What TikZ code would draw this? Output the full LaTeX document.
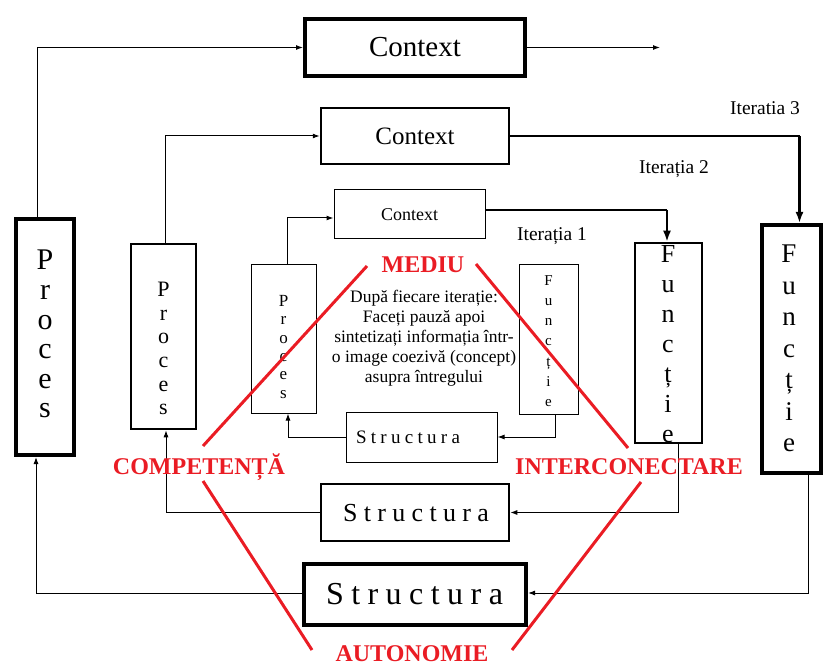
\documentclass[tikz,border=0pt]{standalone}
\usepackage{fontspec}
\setmainfont{Liberation Serif}
\usetikzlibrary{arrows.meta}
\definecolor{redlbl}{RGB}{234,28,36}
\begin{document}
\begin{tikzpicture}[x=1pt,y=-1pt,
  boxthin/.style={draw,line width=1pt,inner sep=0pt},
  boxmid/.style={draw,line width=2.5pt,inner sep=0pt},
  boxthick/.style={draw,line width=4pt,inner sep=0pt},
  conn/.style={line width=1pt,-{Latex[length=7pt,width=5pt]}},
  bigconn/.style={-{Latex[length=11pt,width=8pt]}},
  stack/.style={inner sep=0pt,anchor=north,align=center},
  lbl/.style={inner sep=0pt,anchor=base},
  redlabel/.style={inner sep=0pt,anchor=base,text=redlbl,font=\fontsize{24}{26}\selectfont\bfseries},
  redline/.style={draw=redlbl,line width=3pt}
]
\useasboundingbox (0,0) rectangle (825,668);

% ---- boxes ----
\node[boxthick,minimum width=220pt,minimum height=57pt,font=\fontsize{29}{30}\selectfont] (c3) at (415,47.5) {Context};
\node[boxmid,minimum width=188pt,minimum height=56pt,font=\fontsize{25}{26}\selectfont] (c2) at (415,136) {Context};
\node[boxthin,minimum width=151pt,minimum height=49pt,font=\fontsize{18}{19}\selectfont] (c1) at (409.5,214.5) {Context};

\node[boxthick,minimum width=58pt,minimum height=236pt] (p3) at (45,337) {};
\node[boxmid,minimum width=65pt,minimum height=185pt] (p2) at (163.5,336.5) {};
\node[boxthin,minimum width=65pt,minimum height=148pt] (p1) at (283.5,339) {};

\node[boxthin,minimum width=59pt,minimum height=149pt] (f1) at (548.5,339.5) {};
\node[boxmid,minimum width=67pt,minimum height=200pt] (f2) at (668.5,343) {};
\node[boxthick,minimum width=59pt,minimum height=248pt] (f3) at (791.5,349) {};

\node[boxthin,minimum width=151pt,minimum height=50pt] (s1) at (421.5,437) {};
\node[boxmid,minimum width=188pt,minimum height=57pt] (s2) at (415,512.5) {};
\node[boxthick,minimum width=222pt,minimum height=61pt] (s3) at (415,594.5) {};

% ---- vertical letter stacks ----
\node[stack,font=\fontsize{30}{29.6}\selectfont] (p3t) at (45,250) {P\\r\\o\\c\\e\\s};
\node[stack,font=\fontsize{22}{23.6}\selectfont] (p2t) at (163.5,282) {P\\r\\o\\c\\e\\s};
\node[stack,font=\fontsize{17}{18.4}\selectfont] (p1t) at (283.5,295) {P\\r\\o\\c\\e\\s};
\node[stack,font=\fontsize{15}{20.3}\selectfont] (f1t) at (548.5,275) {F\\u\\n\\c\\ț\\i\\e};
\node[stack,font=\fontsize{26}{30}\selectfont] (f2t) at (668,245) {F\\u\\n\\c\\ț\\i\\e};
\node[stack,font=\fontsize{27}{31.5}\selectfont] (f3t) at (789,245) {F\\u\\n\\c\\ț\\i\\e};

% ---- Structura texts ----
\node[inner sep=0pt,font=\fontsize{32}{33}\selectfont] (s3t) at (414.5,594.5) {\makebox[177pt][s]{S\hfill t\hfill r\hfill u\hfill c\hfill t\hfill u\hfill r\hfill a}};
\node[inner sep=0pt,font=\fontsize{26}{27}\selectfont] (s2t) at (416,513) {\makebox[146pt][s]{S\hfill t\hfill r\hfill u\hfill c\hfill t\hfill u\hfill r\hfill a}};
\node[inner sep=0pt,font=\fontsize{19}{20}\selectfont] (s1t) at (408,437.5) {\makebox[104pt][s]{S\hfill t\hfill r\hfill u\hfill c\hfill t\hfill u\hfill r\hfill a}};

% ---- iteration labels ----
\node[lbl,font=\fontsize{19.5}{21}\selectfont] (it3) at (765,115) {Iteratia 3};
\node[lbl,font=\fontsize{19.5}{21}\selectfont] (it2) at (674,174) {Iterația 2};
\node[lbl,font=\fontsize{19.5}{21}\selectfont] (it1) at (552,241) {Iterația 1};

% ---- centre text ----
\node[stack,font=\fontsize{17.5}{20}\selectfont] (note) at (424,290)
  {După fiecare iterație:\\Faceți pauză apoi\\sintetizați informația într-\\o image coezivă (concept)\\asupra întregului};

% ---- connectors ----
\coordinate (outR) at (660,47.5);
\coordinate (k3) at (799.5,136);
\coordinate (k2) at (667,210);

\draw[conn] ([xshift=-8pt]p3.north) |- (c3.west);
\draw[conn] (c3.east) -- (outR);
\draw[conn] ([xshift=1.5pt]p2.north) |- (c2.west);
\draw[line width=1.3pt] (c2.east) -- (k3);
\draw[bigconn,line width=2.8pt] (k3) -- ([xshift=8pt]f3.north);
\draw[conn] ([xshift=3.5pt]p1.north) |- ([yshift=-3.5pt]c1.west);
\draw[line width=1.3pt] ([yshift=4.5pt]c1.east) -- (k2);
\draw[bigconn,line width=2.2pt] (k2) -- ([xshift=-1.5pt]f2.north);

\draw[conn] ([xshift=6.5pt]f1.south) |- (s1.east);
\draw[conn] (s1.west) -| ([xshift=4.5pt]p1.south);
\draw[conn] ([xshift=9.5pt]f2.south) |- (s2.east);
\draw[conn] (s2.west) -| ([xshift=2.5pt]p2.south);
\draw[conn] ([xshift=16.5pt]f3.south) |- ([yshift=1.5pt]s3.east);
\draw[conn] ([yshift=1.5pt]s3.west) -| ([xshift=-9pt]p3.south);

% ---- red diamond ----
\node[redlabel] (mediu) at (423,273) {MEDIU};
\node[redlabel] (comp) at (199,474) {COMPETENȚĂ};
\node[redlabel] (inter) at (629,474) {INTERCONECTARE};
\node[redlabel] (auto) at (412,661) {AUTONOMIE};

\coordinate (r1a) at (367,266);
\coordinate (r1b) at (203,446);
\coordinate (r2a) at (476,264);
\coordinate (r2b) at (628,448);
\coordinate (r3a) at (203,481);
\coordinate (r3b) at (312,650);
\coordinate (r4a) at (641,482);
\coordinate (r4b) at (512,650);
\draw[redline] (r1a) -- (r1b);
\draw[redline] (r2a) -- (r2b);
\draw[redline] (r3a) -- (r3b);
\draw[redline] (r4a) -- (r4b);
\end{tikzpicture}
\end{document}
